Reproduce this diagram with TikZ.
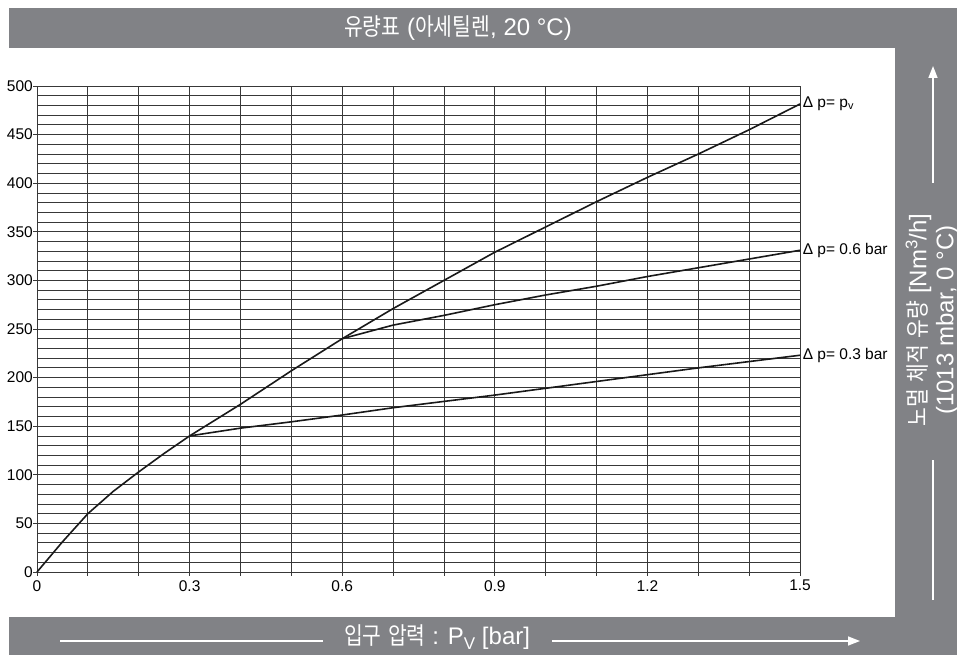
\documentclass[tikz,border=0pt]{standalone}
\usepackage{fontspec}
\usepackage{graphicx}
\setmainfont{Liberation Sans}
\newfontfamily\kr{Noto Sans CJK KR}
\newcommand{\K}[1]{{\kr\scalebox{0.85}[1]{#1}}}
\usetikzlibrary{arrows.meta}
\definecolor{panel}{RGB}{129,130,134}
\tikzset{
  banner/.style={fill=panel},
  bantext/.style={text=white, font=\fontsize{24}{27}\selectfont, inner sep=0pt},
  banarrow/.style={draw=white, line width=1.5pt},
  gridline/.style={draw=black!78, line width=0.8pt},
  curve/.style={draw=black!90, line width=1.6pt, line join=round},
  ticklab/.style={font=\fontsize{15.5}{15.5}\selectfont, inner sep=0pt},
  curvelab/.style={font=\fontsize{15.5}{15.5}\selectfont, anchor=west, inner sep=2.5pt}
}
\begin{document}
\begin{tikzpicture}[x=1pt,y=1pt]
\useasboundingbox (0,0) rectangle (957,661);
\fill[white] (0,0) rectangle (957,661);
% gray frame
\fill[banner] (9,613) rectangle (957,653);
\fill[banner] (895,44) rectangle (957,613);
\fill[banner] (9,6) rectangle (957,44);
% title
\node[bantext] (title) at (458,633) {\K{유량표} (\K{아세틸렌}, 20 °C)};
% x axis label
\node[bantext] (xlabel) at (437,24) {\K{입구} \K{압력} : P\raisebox{-0.45ex}{\fontsize{17}{17}\selectfont V} [bar]};
\coordinate (xa1) at (60,20);
\coordinate (xa2) at (323,20);
\coordinate (xa3) at (552,20);
\coordinate (xa4) at (860,20);
\draw[banarrow] (xa1) -- (xa2);
\draw[banarrow, -{Triangle[length=12pt,width=9pt]}] (xa3) -- (xa4);
% y axis label
\node[bantext, rotate=90, align=center] (ylabel) at (932,341) {\K{노멀} \K{체적} \K{유량} [Nm\textsuperscript{3}/h]\\(1013 mbar, 0 °C)};
\coordinate (ya1) at (933,61);
\coordinate (ya2) at (933,201);
\coordinate (ya3) at (933,478);
\coordinate (ya4) at (933,595);
\draw[banarrow] (ya1) -- (ya2);
\draw[banarrow, -{Triangle[length=12pt,width=9pt]}] (ya3) -- (ya4);
% plot
\begin{scope}[shift={(37,89)}, x=508.7pt, y=0.972pt]
  \foreach \i in {0,...,50} \draw[gridline] (0,\i*10) -- (1.5,\i*10);
  \foreach \i in {0,...,15} {
    \draw[gridline] (\i/10,0) -- (\i/10,500);
    \draw[gridline] (\i/10,0) -- ++(0,-4pt);
  }
  \foreach \v in {0,50,...,500} {
    \draw[gridline] (0,\v) -- ++(-4pt,0);
    \node[ticklab, anchor=east] at ([xshift=-4pt]0,\v) {\v};
  }
  \foreach \xv/\xl in {0/0,0.3/0.3,0.6/0.6,0.9/0.9,1.2/1.2,1.5/1.5}
    \node[ticklab, anchor=north] at ([yshift=-8pt]\xv,0) {\xl};
  \coordinate (o) at (0,0);
  \coordinate (k3) at (0.3,140);
  \coordinate (k6) at (0.6,240);
  \coordinate (epv) at (1.5,481.5);
  \coordinate (e6) at (1.5,331);
  \coordinate (e3) at (1.5,223);
  \draw[curve] (o) -- (0.05,31) -- (0.1,60) -- (0.15,83) -- (0.2,103) -- (0.25,122) -- (k3)
     -- (0.4,172.5) -- (0.5,207) -- (k6) -- (0.7,271) -- (0.8,300) -- (0.9,329) -- (1.0,355)
     -- (1.1,381) -- (1.2,406) -- (1.3,430) -- (1.4,455) -- (epv);
  \draw[curve] (k6) -- (0.7,254) -- (0.8,264) -- (0.9,275) -- (1.0,285) -- (1.1,294)
     -- (1.2,304) -- (1.3,313) -- (1.4,322) -- (e6);
  \draw[curve] (k3) -- (0.4,148) -- (0.5,154.5) -- (0.6,161.5) -- (0.7,169) -- (0.8,175.5)
     -- (0.9,182) -- (1.0,189) -- (1.1,196) -- (1.2,203) -- (1.3,210) -- (1.4,216.5) -- (e3);
  \node[curvelab] (lpv) at (epv) {Δ p= p\textsubscript{v}};
  \node[curvelab] (l6) at (e6) {Δ p= 0.6 bar};
  \node[curvelab] (l3) at (e3) {Δ p= 0.3 bar};
\end{scope}
\end{tikzpicture}
\end{document}
